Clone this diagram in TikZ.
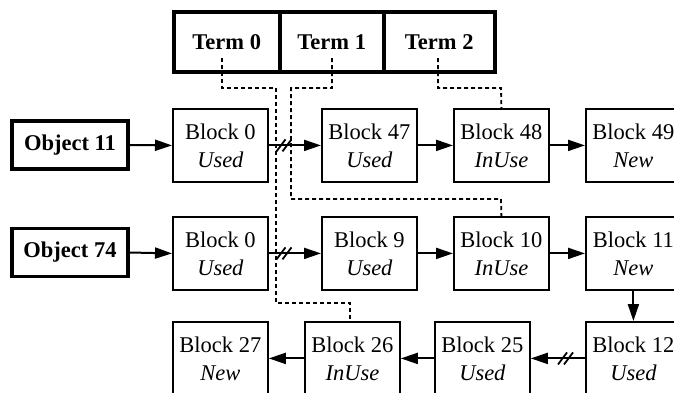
\documentclass[tikz,border=0pt]{standalone}
\usepackage{fontspec}
\setmainfont{Liberation Serif}
\usetikzlibrary{arrows.meta,calc}
\tikzset{
  blk/.style={draw, line width=1.8bp, minimum width=95bp, minimum height=73bp, inner sep=0pt, align=center, anchor=north west, font=\fontsize{22.5bp}{28bp}\selectfont},
  objbox/.style={draw, line width=3.5bp, minimum width=116bp, minimum height=48bp, inner sep=0pt, font=\fontsize{22.5bp}{28bp}\selectfont\bfseries},
  termcell/.style={draw, line width=3.5bp, minimum height=60bp, inner sep=0pt, anchor=north west, font=\fontsize{22.5bp}{28bp}\selectfont\bfseries},
  arr/.style={line width=2bp, -{Triangle[length=17bp,width=11bp]}},
  dsh/.style={line width=1.8bp, dash pattern=on 4bp off 3bp},
  slash/.style={line width=1.8bp}
}
\begin{document}
\begin{tikzpicture}[x=1bp,y=-1bp]
\useasboundingbox (0,0) rectangle (674,392);
% terms
\node[termcell, minimum width=106bp] (t0) at (172,10) {Term 0};
\node[termcell, minimum width=104bp] (t1) at (278,10) {Term 1};
\node[termcell, minimum width=111bp] (t2) at (382,10) {Term 2};
% objects
\node[objbox] (o11) at (70,145) {Object 11};
\node[objbox] (o74) at (70,252.5) {Object 74};
% row 1
\node[blk] (a0) at (172,108) {Block 0\\\textit{Used}};
\node[blk] (a47) at (321,108) {Block 47\\\textit{Used}};
\node[blk] (a48) at (453,108) {Block 48\\\textit{InUse}};
\node[blk] (a49) at (585,108) {Block 49\\\textit{New}};
% row 2
\node[blk] (b0) at (172,216) {Block 0\\\textit{Used}};
\node[blk] (b9) at (321,216) {Block 9\\\textit{Used}};
\node[blk] (b10) at (453,216) {Block 10\\\textit{InUse}};
\node[blk] (b11) at (585,216) {Block 11\\\textit{New}};
% row 3
\node[blk] (c27) at (172,321) {Block 27\\\textit{New}};
\node[blk] (c26) at (304,321) {Block 26\\\textit{InUse}};
\node[blk] (c25) at (434,321) {Block 25\\\textit{Used}};
\node[blk] (c12) at (585,321) {Block 12\\\textit{Used}};
% dashed term links
\coordinate (d0) at (222,58);
\coordinate (d1) at (332,58);
\coordinate (d2) at (438,58);
\draw[dsh] (d0) -- (222,88) -- (276,88) -- (276,303) -- (350,303) -- (c26.north -| 350,0);
\draw[dsh] (d1) -- (332,88) -- (291,88) -- (291,199) -- (501,199) -- (b10.north);
\draw[dsh] (d2) -- (438,88) -- (501,88) -- (a48.north);
% arrows row 1
\draw[arr] (o11.east) -- (a0.west);
\draw[arr] (a0.east) -- coordinate[pos=0.3] (s1) (a47.west);
\draw[arr] (a47.east) -- (a48.west);
\draw[arr] (a48.east) -- (a49.west);
% arrows row 2
\draw[arr] (o74.east) -- (b0.west);
\draw[arr] (b0.east) -- coordinate[pos=0.3] (s2) (b9.west);
\draw[arr] (b9.east) -- (b10.west);
\draw[arr] (b10.east) -- (b11.west);
\draw[arr] (b11.south) -- (c12.north);
% arrows row 3
\draw[arr] (c12.west) -- coordinate[pos=0.35] (s3) (c25.east);
\draw[arr] (c25.west) -- (c26.east);
\draw[arr] (c26.west) -- (c27.east);
% slashes
\foreach \s in {s1,s2,s3}{
  \draw[slash] ($(\s)+(-8,6)$) -- ($(\s)+(1,-6)$);
  \draw[slash] ($(\s)+(-2,6)$) -- ($(\s)+(7,-6)$);
}
\end{tikzpicture}
\end{document}
